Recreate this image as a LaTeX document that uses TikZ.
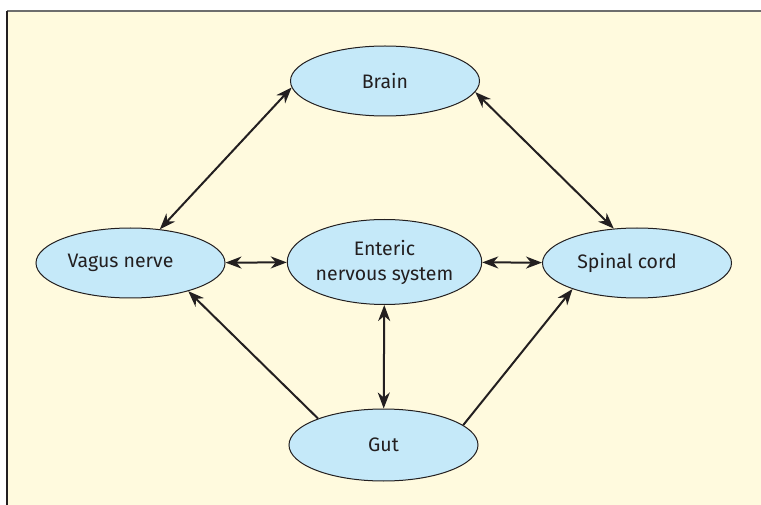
\documentclass[tikz,border=0pt]{standalone}
\usepackage{fontspec}
\setmainfont{Fira Sans}
\usepackage{tikz}
\usetikzlibrary{shapes.geometric}
\usetikzlibrary{arrows,arrows.meta}
\definecolor{papier}{RGB}{255,250,222}
\definecolor{hellblau}{RGB}{197,233,249}
\definecolor{strich}{RGB}{35,31,32}
\definecolor{rahmen}{RGB}{110,110,110}

\begin{document}
\begin{tikzpicture}[x=1pt, y=-1pt,
    organ/.style={ellipse, draw=strich, line width=1pt, fill=hellblau, minimum width=189pt, minimum height=70pt, inner sep=0pt, text=strich, font=\fontsize{19.5}{25}\selectfont},
    pfeil/.style={strich, line width=2pt, -{Stealth[length=16pt, width=12pt, inset=5pt]}},
    doppelpfeil/.style={pfeil, {Stealth[length=16pt, width=12pt, inset=5pt]}-{Stealth[length=16pt, width=12pt, inset=5pt]}}]

    \useasboundingbox (0, 0) rectangle (761, 505);
    \fill[papier] (7, 11) rectangle (761, 505);
				\draw[rahmen, line width=1.5pt] (7, 11) -- (761, 11);
				\draw[strich, line width=1.5pt] (7, 11) -- (7, 505);

				\node[organ] (brain) at (385, 81) {Brain};
				\node[organ] (vagus) at (130.5, 263) {Vagus nerve\hspace*{20pt}};
				\node[organ, minimum height=85pt, align=center] (ens) at (384.5, 262) {Enteric\\nervous system};
				\node[organ] (spinal) at (637, 263) {Spinal cord\hspace*{20pt}};
				\node[organ, minimum height=72pt] (gut) at (383.5, 445) {Gut};

				\draw[doppelpfeil] (brain.184) -- (vagus.49);
				\draw[doppelpfeil] (brain.353) -- (spinal.124);
				\draw[doppelpfeil] (vagus) -- (ens);
				\draw[doppelpfeil] (ens) -- (spinal);
				\draw[doppelpfeil] (ens) -- (gut);
				\draw[pfeil] (gut.158) -- (vagus.334);
				\draw[pfeil] (gut.14.5) -- (spinal.202);

\end{tikzpicture}
\end{document}
